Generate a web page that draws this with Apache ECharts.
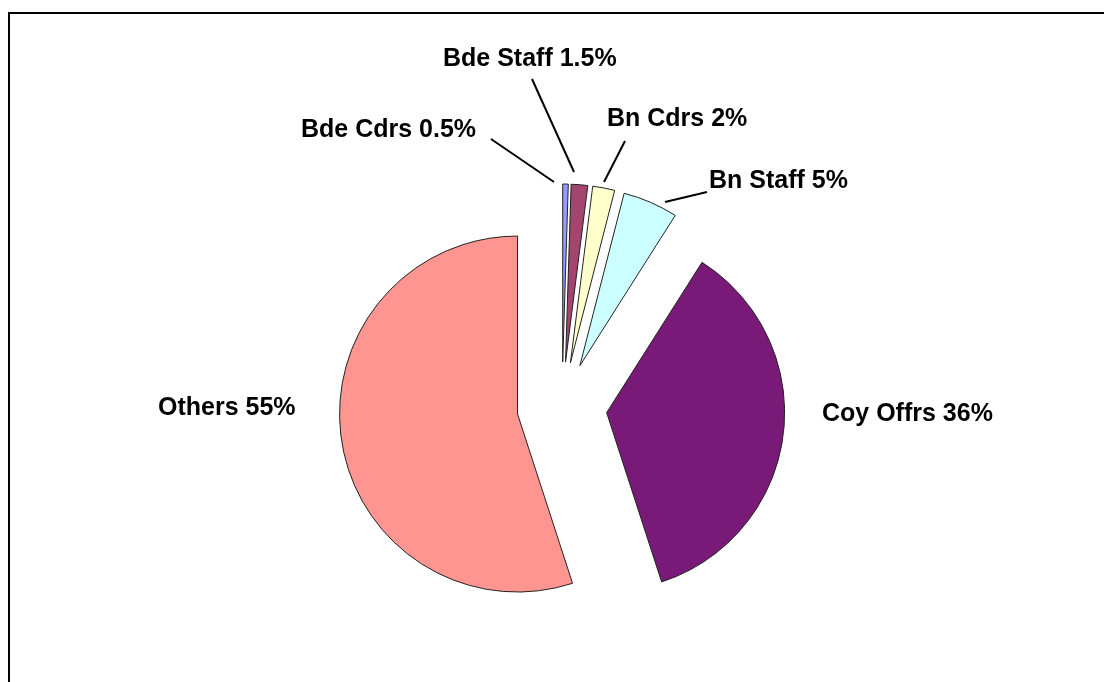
<!DOCTYPE html>
<html>
<head>
<meta charset="utf-8">
<script src="https://cdn.jsdelivr.net/npm/echarts@6/dist/echarts.min.js"></script>
<style>
html,body{margin:0;padding:0;background:#fff;}
#c{width:1104px;height:682px;}
</style>
</head>
<body>
<div id="c"></div>
<script>
const categories = ['Bde Cdrs', 'Bde Staff', 'Bn Cdrs', 'Bn Staff', 'Coy Offrs', 'Others'];
const values = [0.5, 1.5, 2, 5, 36, 55];
const colors = ['#9999FF', '#A3456F', '#FFFFCC', '#CCFFFF', '#7A1A78', '#FF9591'];

// label placement (left x, middle y) and leader lines, as in the reference
const labelPos = [
  {x: 301, y: 130, line: [[554, 182], [491, 139]]},
  {x: 443, y: 59, line: [[574, 172], [532, 79]]},
  {x: 607, y: 119, line: [[604, 182], [625, 141]]},
  {x: 709, y: 181, line: [[665, 202], [707, 192]]},
  {x: 822, y: 414, line: null},
  {x: 158, y: 408, line: null}
];

const chart = echarts.init(document.getElementById('c'), null, {renderer: 'canvas'});

const sliceData = categories.map((n, i) => ({
  name: n,
  value: values[i],
  selected: true,
  itemStyle: {color: colors[i]}
}));

const labelData = categories.map((n, i) => ({
  name: n,
  value: values[i],
  labelLine: {show: labelPos[i].line !== null}
}));

chart.setOption({
  animation: false,
  graphic: [{
    type: 'rect',
    shape: {x: 9, y: 13, width: 1300, height: 900},
    style: {fill: 'none', stroke: '#000', lineWidth: 2},
    silent: true
  }],
  series: [{
    type: 'pie',
    center: [562, 407],
    radius: 178,
    startAngle: 90,
    clockwise: true,
    selectedMode: 'multiple',
    selectedOffset: 45,
    silent: true,
    emphasis: {disabled: true},
    itemStyle: {borderColor: '#222', borderWidth: 1},
    select: {itemStyle: {borderColor: '#222', borderWidth: 1}},
    label: {show: false},
    labelLine: {show: false},
    data: sliceData
  }, {
    type: 'pie',
    center: [562, 407],
    radius: 178,
    startAngle: 90,
    clockwise: true,
    silent: true,
    z: 3,
    avoidLabelOverlap: false,
    emphasis: {disabled: true},
    itemStyle: {color: 'rgba(0,0,0,0)', borderWidth: 0},
    label: {
      show: true,
      position: 'outside',
      formatter: p => p.name + ' ' + p.value + '%',
      fontFamily: 'Liberation Sans, Arial, sans-serif',
      fontWeight: 'bold',
      fontSize: 25,
      color: '#000'
    },
    labelLine: {show: true, lineStyle: {color: '#000', width: 2}},
    labelLayout: function (params) {
      const lp = labelPos[params.dataIndex];
      const res = {x: lp.x, y: lp.y, align: 'left', verticalAlign: 'middle'};
      if (lp.line) {
        res.labelLinePoints = [lp.line[0], lp.line[0], lp.line[1]];
      }
      return res;
    },
    data: labelData
  }]
});
</script>
</body>
</html>
